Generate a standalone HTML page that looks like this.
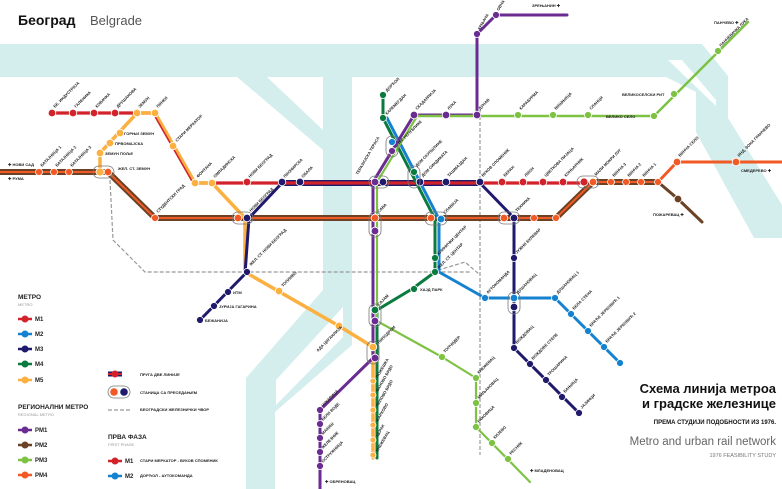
<!DOCTYPE html>
<html><head><meta charset="utf-8"><style>
html,body{margin:0;padding:0;background:#fff}
svg{display:block}
text{font-family:"Liberation Sans",sans-serif}
.l{font-size:4px;font-weight:bold;fill:#222}
</style></head><body>
<svg width="782" height="489" viewBox="0 0 782 489" xmlns="http://www.w3.org/2000/svg">
<g fill="#d3eeed">
<polygon points="0,44 702,44 728,76 728,118 782,205 782,238 754,238 696,132 696,92 666,77 0,77"/>
<polygon points="237,77 267,77 323,130 323,77 352,77 352,345 275,412 275,489 246,489 246,378 323,290 323,150"/>
</g>
<polygon fill="#fff" points="343,307 343,337 276,405 276,380"/>
<polygon fill="#fff" points="668,60 682,60 716,100 716,106"/>
<text x="18" y="25" style="font-size:14px;font-weight:bold" fill="#111">Београд</text>
<text x="90" y="25" style="font-size:13px" fill="#555">Belgrade</text>
<g stroke="#999" stroke-width="1.2" fill="none" stroke-dasharray="4,2">
<path d="M110,180 L113,240 L145,272 L470,272"/>
<path d="M480,110 L480,455"/>
<path d="M432,272 L465,262 L480,275"/>
</g>
<g fill="none" stroke-linecap="round" stroke-linejoin="round">
<path d="M0,172 L108,172 L155,218 L556,218 L593,182 L658,182" stroke="#6b4226" stroke-width="6"/>
<path d="M0,172 L108,172 L155,218 L556,218 L593,182 L658,182" stroke="#f15a24" stroke-width="2"/>
<path d="M658,182 L677,162 L782,162" stroke="#f15a24" stroke-width="3"/>
<path d="M658,182 L678,199 L702,222" stroke="#6b4226" stroke-width="3"/>
<path d="M282,183 L480,183" stroke="#1f1a6b" stroke-width="6"/>
<path d="M52,113 L155,113 L195,183 L584,183" stroke="#d2232a" stroke-width="3.2"/>
<path d="M100,172 L100,153 L137,113 L155,113 L195,183 L212,183 L245,218 L245,272 L339,326 L373,347 L373,458" stroke="#fbb040" stroke-width="3.5"/>
<path d="M153,113 L193,183" stroke="#d2232a" stroke-width="1.6"/>
<path d="M200,320 L245,274 L249,218 L282,183 M480,183 L514,218 L514,348 L579,413" stroke="#1f1a6b" stroke-width="3"/>
<path d="M383,95 L383,118 L435,219 L435,272 L412,289 L377,310 L377,458" stroke="#0b7a3e" stroke-width="3"/>
<path d="M387,118 L439,219 L439,272 L485,298 L555,298 L620,363" stroke="#1582d0" stroke-width="3"/>
<path d="M567,15 L496,15 L477,34 L477,115 L414,115 L373,182 L373,358 L320,410 L320,489" stroke="#6a2c91" stroke-width="3"/>
<path d="M748,22 L654,116 L414,116" stroke="#7dc242" stroke-width="2.5"/>
<path d="M416,118 L377,182 L377,321 L442,357 L476,378 L476,427 L530,482" stroke="#7dc242" stroke-width="2.2"/>
</g>
<g stroke="#fff" stroke-width="0.8">
<g fill="#d2232a"><circle cx="52" cy="113" r="3.8"/><circle cx="73" cy="113" r="3.8"/><circle cx="94" cy="113" r="3.8"/><circle cx="115" cy="113" r="3.8"/><circle cx="247" cy="182" r="3.8"/><circle cx="502" cy="182" r="3.8"/><circle cx="523" cy="182" r="3.8"/><circle cx="543" cy="182" r="3.8"/><circle cx="563" cy="182" r="3.8"/><circle cx="584" cy="182" r="4"/></g>
<g fill="#fbb040"><circle cx="137" cy="113" r="3.8"/><circle cx="155" cy="113" r="3.8"/><circle cx="173" cy="146" r="3.8"/><circle cx="195" cy="183" r="3.8"/><circle cx="212" cy="183" r="3.8"/><circle cx="120" cy="133" r="3.8"/><circle cx="110" cy="143" r="3.8"/><circle cx="100" cy="153" r="3.8"/><circle cx="100" cy="172" r="4"/><circle cx="279" cy="291" r="3.8"/><circle cx="339" cy="326" r="3.8"/><circle cx="373" cy="347" r="3.8"/></g>
<g fill="#1f1a6b"><circle cx="282" cy="182" r="3.8"/><circle cx="300" cy="182" r="3.8"/><circle cx="383" cy="182" r="3.8"/><circle cx="420" cy="182" r="3.8"/><circle cx="446" cy="182" r="3.8"/><circle cx="480" cy="182" r="3.8"/><circle cx="247" cy="218" r="3.8"/><circle cx="514" cy="218" r="3.8"/><circle cx="514" cy="258" r="3.5"/><circle cx="514" cy="307" r="3.8"/><circle cx="514" cy="348" r="3.5"/><circle cx="530" cy="364" r="3.5"/><circle cx="546" cy="380" r="3.5"/><circle cx="562" cy="397" r="3.5"/><circle cx="579" cy="413" r="3.5"/><circle cx="228" cy="292" r="3.5"/><circle cx="214" cy="306" r="3.5"/><circle cx="200" cy="320" r="3.5"/><circle cx="247" cy="272" r="3.5"/></g>
<g fill="#0b7a3e"><circle cx="383" cy="95" r="3.5"/><circle cx="383" cy="118" r="3.5"/><circle cx="414" cy="172" r="3.5"/><circle cx="435" cy="258" r="3.5"/><circle cx="435" cy="272" r="3.5"/><circle cx="414" cy="289" r="3.5"/><circle cx="375" cy="310" r="3.8"/></g>
<g fill="#1582d0"><circle cx="392" cy="142" r="3.5"/><circle cx="441" cy="219" r="3.8"/><circle cx="485" cy="298" r="3.5"/><circle cx="514" cy="298" r="3.8"/><circle cx="555" cy="298" r="3.5"/><circle cx="571" cy="314" r="3.5"/><circle cx="588" cy="331" r="3.5"/><circle cx="604" cy="347" r="3.5"/><circle cx="620" cy="363" r="3.5"/></g>
<g fill="#6a2c91"><circle cx="496" cy="15" r="3.5"/><circle cx="477" cy="34" r="3.5"/><circle cx="477" cy="115" r="3.8"/><circle cx="446" cy="115" r="3.8"/><circle cx="414" cy="115" r="3.8"/><circle cx="392" cy="151" r="3.5"/><circle cx="375" cy="182" r="3.8"/><circle cx="375" cy="231" r="3.8"/><circle cx="375" cy="321" r="3.8"/><circle cx="375" cy="358" r="3.8"/><circle cx="320" cy="410" r="3.5"/><circle cx="320" cy="424" r="3.5"/><circle cx="320" cy="438" r="3.5"/><circle cx="320" cy="452" r="3.5"/><circle cx="320" cy="466" r="3.5"/></g>
<g fill="#7dc242"><circle cx="518" cy="115" r="3.5"/><circle cx="553" cy="115" r="3.5"/><circle cx="588" cy="115" r="3.5"/><circle cx="654" cy="116" r="3.5"/><circle cx="674" cy="94" r="3.5"/><circle cx="718" cy="51" r="3.5"/><circle cx="442" cy="357" r="3.5"/><circle cx="476" cy="378" r="3.5"/><circle cx="476" cy="403" r="3.5"/><circle cx="476" cy="427" r="3.5"/><circle cx="492" cy="443" r="3.5"/><circle cx="508" cy="459" r="3.5"/></g>
<g fill="#f15a24"><circle cx="39" cy="172" r="3.5"/><circle cx="54" cy="172" r="3.5"/><circle cx="69" cy="172" r="3.5"/><circle cx="108" cy="172" r="3.8"/><circle cx="155" cy="218" r="3.5"/><circle cx="238" cy="218" r="3.8"/><circle cx="375" cy="218" r="3.8"/><circle cx="431" cy="218" r="3.8"/><circle cx="504" cy="218" r="3.8"/><circle cx="534" cy="218" r="3.5"/><circle cx="556" cy="218" r="3.5"/><circle cx="593" cy="182" r="3.8"/><circle cx="611" cy="182" r="3.5"/><circle cx="626" cy="182" r="3.5"/><circle cx="641" cy="182" r="3.5"/><circle cx="658" cy="182" r="3.5"/><circle cx="677" cy="162" r="3.8"/><circle cx="736" cy="162" r="3.8"/></g>
<circle cx="678" cy="199" r="3.8" fill="#6b4226"/>
<g fill="#fbb040"><circle cx="373" cy="381" r="3"/><circle cx="373" cy="395" r="3"/><circle cx="373" cy="410" r="3"/><circle cx="373" cy="425" r="3"/><circle cx="373" cy="440" r="3"/><circle cx="373" cy="455" r="3"/></g>
</g>
<g fill="none" stroke="#777" stroke-width="0.8">
<rect x="93" y="166" width="21" height="12" rx="6"/><rect x="577" y="176" width="22" height="12" rx="6"/>
<rect x="232" y="212" width="21" height="12" rx="6"/><rect x="369" y="176" width="20" height="12" rx="6"/>
<rect x="369" y="212" width="12" height="25" rx="6"/><rect x="425" y="212" width="22" height="13" rx="6"/>
<rect x="498" y="212" width="22" height="12" rx="6"/><rect x="386" y="136" width="12" height="21" rx="6"/>
<rect x="408" y="166" width="12" height="22" rx="6"/><rect x="508" y="292" width="12" height="22" rx="6"/>
<rect x="369" y="304" width="12" height="23" rx="6"/><rect x="367" y="341" width="12" height="23" rx="6"/>
</g>
<g class="l">
<text transform="translate(55,108) rotate(-45)">БЕ. ИНДУСТРИЈА</text>
<text transform="translate(76,108) rotate(-45)">ГАЛЕНИКА</text>
<text transform="translate(97,108) rotate(-45)">КОВАЧКА</text>
<text transform="translate(118,108) rotate(-45)">ДРУШАНОВА</text>
<text transform="translate(140,108) rotate(-45)">ЗЕМУН</text>
<text transform="translate(158,108) rotate(-45)">ПИНКИ</text>
<text transform="translate(177,142) rotate(-45)">СТАРИ МЕРКАТОР</text>
<text transform="translate(198,178) rotate(-45)">ФОНТАНА</text>
<text transform="translate(215,178) rotate(-45)">ОМЛАДИНСКА</text>
<text transform="translate(250,178) rotate(-45)">НОВИ БЕОГРАД</text>
<text transform="translate(285,178) rotate(-45)">ПИОНИРСКА</text>
<text transform="translate(303,178) rotate(-45)">ОБАЛА</text>
<text transform="translate(358,175) rotate(-60)">ТЕРАЗИЈСКА ТЕРАСА</text>
<text transform="translate(423,177) rotate(-45)">ДОМ СИНДИКАТА</text>
<text transform="translate(449,177) rotate(-45)">ТАШМАЈДАН</text>
<text transform="translate(483,177) rotate(-45)">ВУКОВ СПОМЕНИК</text>
<text transform="translate(505,177) rotate(-45)">БЕРАН</text>
<text transform="translate(526,177) rotate(-45)">ЛИОН</text>
<text transform="translate(546,177) rotate(-45)">ЦВЕТКОВА ПИЈАЦА</text>
<text transform="translate(566,177) rotate(-45)">КОНЬАРНИК</text>
<text transform="translate(596,176) rotate(-45)">МАЛИ МОКРИ ЛУГ</text>
<text transform="translate(614,177) rotate(-45)">ВИНЧА 3</text>
<text transform="translate(629,177) rotate(-45)">ВИНЧА 2</text>
<text transform="translate(644,177) rotate(-45)">ВИНЧА 1</text>
<text transform="translate(680,157) rotate(-45)">ВИНЧА СЕЛО</text>
<text transform="translate(739,157) rotate(-45)">ИНД. ЗОНА ГРАНЧЕВО</text>
<text x="741" y="172">СМЕДЕРЕВО ✚</text>
<text x="653" y="216">ПОЖАРЕВАЦ ✚</text>
<text x="124" y="135">ГОРЊИ ЗЕМУН</text>
<text x="115" y="145">ПРВОМАЈСКА</text>
<text x="105" y="155">ЗЕМУН ПОЉЕ</text>
<text x="118" y="170">ЖЕЛ. СТ. ЗЕМУН</text>
<text x="8" y="166">✚ НОВИ САД</text>
<text x="8" y="180">✚ РУМА</text>
<text transform="translate(42,167) rotate(-45)">БАТАЈНИЦА 1</text>
<text transform="translate(57,167) rotate(-45)">БАТАЈНИЦА 2</text>
<text transform="translate(72,167) rotate(-45)">БАТАЈНИЦА 3</text>
<text transform="translate(158,213) rotate(-45)">СТУДЕНТСКИ ГРАД</text>
<text transform="translate(251,212) rotate(-45)">НОВИ БЕОГРАД</text>
<text transform="translate(251,266) rotate(-45)">ЖЕЛ. СТ. НОВИ БЕОГРАД</text>
<text x="233" y="294">ИТМ</text><text x="219" y="308">ЈУРИЈА ГАГАРИНА</text><text x="205" y="322">БЕЖАНИЈА</text>
<text transform="translate(283,287) rotate(-45)">ТОПЛИВО</text>
<text transform="translate(318,352) rotate(-45)">АДА ЦИГАНЛИЈА</text>
<text transform="translate(379,213) rotate(-45)">САВА</text>
<text transform="translate(387,92) rotate(-45)">ДОРЋОЛ</text>
<text transform="translate(387,115) rotate(-45)">КАЛЕМЕГДАН</text>
<text transform="translate(417,110) rotate(-45)">СКАДАРЛИЈА</text>
<text transform="translate(449,110) rotate(-45)">ЛУКА</text>
<text transform="translate(480,110) rotate(-45)">ДУНАВ</text>
<text transform="translate(521,110) rotate(-45)">КАРАБУРМА</text>
<text transform="translate(556,110) rotate(-45)">ВИШЊИЦА</text>
<text transform="translate(591,110) rotate(-45)">СЛАНЦИ</text>
<text x="606" y="118">ВЕЛИКО СЕЛО</text><text x="622" y="96">ВЕЛИКОСЕЛСКИ РИТ</text>
<text transform="translate(721,47) rotate(-45)">ПАНЧЕВАЧКА ЛУКА</text>
<text x="714" y="24">ПАНЧЕВО ✚</text>
<text transform="translate(480,30) rotate(-60)">КРЊАЧА</text>
<text transform="translate(499,11) rotate(-60)">ОВЧА</text>
<text x="532" y="7">ЗРЕЊАНИН ✚</text>
<text transform="translate(399,145) rotate(-45)">ТРГ РЕПУБЛИКЕ</text>
<text transform="translate(417,167) rotate(-45)">ДОМ СКУПШТИНЕ</text>
<text transform="translate(445,214) rotate(-45)">СЛАВИЈА</text>
<text transform="translate(439,255) rotate(-45)">КЛИНИЧКИ ЦЕНТАР</text>
<text transform="translate(439,269) rotate(-45)">ЖЕЛ. СТ. ЦЕНТАР</text>
<text x="420" y="291">ХАЈД ПАРК</text>
<text transform="translate(517,212) rotate(-45)">ТЕХНИКА</text>
<text transform="translate(517,254) rotate(-45)">ЈУЖНИ БУЛЕВАР</text>
<text transform="translate(488,294) rotate(-45)">АУТОКОМАНДА</text>
<text transform="translate(518,294) rotate(-45)">ДУШАНОВАЦ</text>
<text transform="translate(558,294) rotate(-45)">ДУШАНОВАЦ 1</text>
<text transform="translate(574,310) rotate(-45)">БЕЛА СТЕНА</text>
<text transform="translate(591,327) rotate(-45)">БРАЋЕ ЈЕРКОВИЋ 1</text>
<text transform="translate(607,343) rotate(-45)">БРАЋЕ ЈЕРКОВИЋ 2</text>
<text transform="translate(517,344) rotate(-45)">ВОЖДОВАЦ</text>
<text transform="translate(533,360) rotate(-45)">ВОЖДОВЕ СТЕПЕ</text>
<text transform="translate(549,376) rotate(-45)">ТРОШАРИНА</text>
<text transform="translate(565,393) rotate(-45)">БАЊИЦА</text>
<text transform="translate(582,409) rotate(-45)">ЈАЈИНЦИ</text>
<text transform="translate(445,353) rotate(-45)">ТОПЧИДЕР</text>
<text transform="translate(479,374) rotate(-45)">КНЕЖЕВАЦ</text>
<text transform="translate(479,399) rotate(-45)">МИЉАКОВАЦ</text>
<text transform="translate(479,423) rotate(-45)">РАКОВИЦА</text>
<text transform="translate(495,439) rotate(-45)">КИЈЕВО</text>
<text transform="translate(511,455) rotate(-45)">РЕСНИК</text>
<text x="530" y="472">✚ МЛАДЕНОВАЦ</text>
<text transform="translate(379,306) rotate(-45)">САЈАМ</text>
<text transform="translate(379,344) rotate(-45)">ЛИПОДРОМ</text>
<text transform="translate(378,378) rotate(-60)">ПОЖЕШКА</text>
<text transform="translate(378,392) rotate(-60)">БАНОВО БРДО</text>
<text transform="translate(378,407) rotate(-60)">ЛИПОВО БРДО</text>
<text transform="translate(378,422) rotate(-60)">ЖАРКОВО</text>
<text transform="translate(378,437) rotate(-60)">ЦЕРАК</text>
<text transform="translate(378,452) rotate(-60)">КНЕЖЕВАЦ</text>
<text transform="translate(323,407) rotate(-45)">ЧУКАРИЦА</text>
<text transform="translate(323,421) rotate(-45)">БЕЛИ ВОДЕ</text>
<text transform="translate(323,435) rotate(-45)">МАКИШ</text>
<text transform="translate(323,449) rotate(-45)">ЖЕЛЕЗНИК</text>
<text transform="translate(323,463) rotate(-45)">ОСТРУЖНИЦА</text>
<text x="325" y="483">✚ ОБРЕНОВАЦ</text>
</g>
<g font-family="Liberation Sans" font-weight="bold" fill="#222">
<text x="18" y="299" font-size="6.5">МЕТРО</text><text x="18" y="306" font-size="4" fill="#999" font-weight="normal">METRO</text>
<text x="18" y="409" font-size="6.5">РЕГИОНАЛНИ МЕТРО</text><text x="18" y="416" font-size="4" fill="#999" font-weight="normal">REGIONAL METRO</text>
<text x="35" y="321" font-size="6">M1</text><text x="35" y="336" font-size="6">M2</text><text x="35" y="351" font-size="6">M3</text><text x="35" y="366" font-size="6">M4</text><text x="35" y="382" font-size="6">M5</text>
<text x="35" y="432" font-size="6">PM1</text><text x="35" y="447" font-size="6">PM2</text><text x="35" y="462" font-size="6">PM3</text><text x="35" y="477" font-size="6">PM4</text>
<text x="108" y="439" font-size="6.5">ПРВА ФАЗА</text><text x="108" y="446" font-size="4" fill="#999" font-weight="normal">FIRST PHASE</text>
<text x="125" y="463" font-size="6">M1</text><text x="125" y="478" font-size="6">M2</text>
<text x="140" y="376" font-size="4">ПРУГА ДВЕ ЛИНИЈЕ</text>
<text x="140" y="394" font-size="4">СТАНИЦА СА ПРЕСЕДАЊЕМ</text>
<text x="140" y="411" font-size="4">БЕОГРАДСКИ ЖЕЛЕЗНИЧКИ ЧВОР</text>
<text x="140" y="462" font-size="4">СТАРИ МЕРКАТОР - ВУКОВ СПОМЕНИК</text>
<text x="140" y="477" font-size="4">ДОРЋОЛ - АУТОКОМАНДА</text>
</g>
<g stroke-width="2.5">
<line x1="18" y1="319" x2="32" y2="319" stroke="#d2232a"/><circle cx="25" cy="319" r="3.5" fill="#d2232a"/>
<line x1="18" y1="334" x2="32" y2="334" stroke="#1582d0"/><circle cx="25" cy="334" r="3.5" fill="#1582d0"/>
<line x1="18" y1="349" x2="32" y2="349" stroke="#1f1a6b"/><circle cx="25" cy="349" r="3.5" fill="#1f1a6b"/>
<line x1="18" y1="364" x2="32" y2="364" stroke="#0b7a3e"/><circle cx="25" cy="364" r="3.5" fill="#0b7a3e"/>
<line x1="18" y1="380" x2="32" y2="380" stroke="#fbb040"/><circle cx="25" cy="380" r="3.5" fill="#fbb040"/>
<line x1="18" y1="430" x2="32" y2="430" stroke="#6a2c91"/><circle cx="25" cy="430" r="3.5" fill="#6a2c91"/>
<line x1="18" y1="445" x2="32" y2="445" stroke="#6b4226"/><circle cx="25" cy="445" r="3.5" fill="#6b4226"/>
<line x1="18" y1="460" x2="32" y2="460" stroke="#7dc242"/><circle cx="25" cy="460" r="3.5" fill="#7dc242"/>
<line x1="18" y1="475" x2="32" y2="475" stroke="#f15a24"/><circle cx="25" cy="475" r="3.5" fill="#f15a24"/>
<line x1="108" y1="461" x2="122" y2="461" stroke="#d2232a"/><circle cx="115" cy="461" r="3.5" fill="#d2232a"/>
<line x1="108" y1="476" x2="122" y2="476" stroke="#1582d0"/><circle cx="115" cy="476" r="3.5" fill="#1582d0"/>
<line x1="108" y1="374" x2="122" y2="374" stroke="#1f1a6b" stroke-width="5"/><line x1="108" y1="374" x2="122" y2="374" stroke="#d2232a" stroke-width="2"/><circle cx="115" cy="374" r="3.5" fill="#d2232a"/>
<line x1="108" y1="410" x2="132" y2="410" stroke="#999" stroke-width="1.2" stroke-dasharray="4,2"/>
</g>
<rect x="108" y="386" width="22" height="12" rx="6" fill="#fff" stroke="#777" stroke-width="0.8"/>
<circle cx="114" cy="392" r="3.8" fill="#f15a24"/><circle cx="124" cy="392" r="3.8" fill="#1f1a6b"/>
<g text-anchor="end">
<text x="776" y="393" font-size="13" font-weight="bold" fill="#111">Схема линија метроа</text>
<text x="776" y="408" font-size="13" font-weight="bold" fill="#111">и градске  железнице</text>
<text x="776" y="424" font-size="6" font-weight="bold" fill="#111">ПРЕМА СТУДИЈИ ПОДОБНОСТИ ИЗ 1976.</text>
<text x="776" y="445" font-size="11.5" fill="#666">Metro and urban rail network</text>
<text x="776" y="457" font-size="5.5" fill="#777">1976 FEASIBILITY STUDY</text>
</g>
</svg>
</body></html>
